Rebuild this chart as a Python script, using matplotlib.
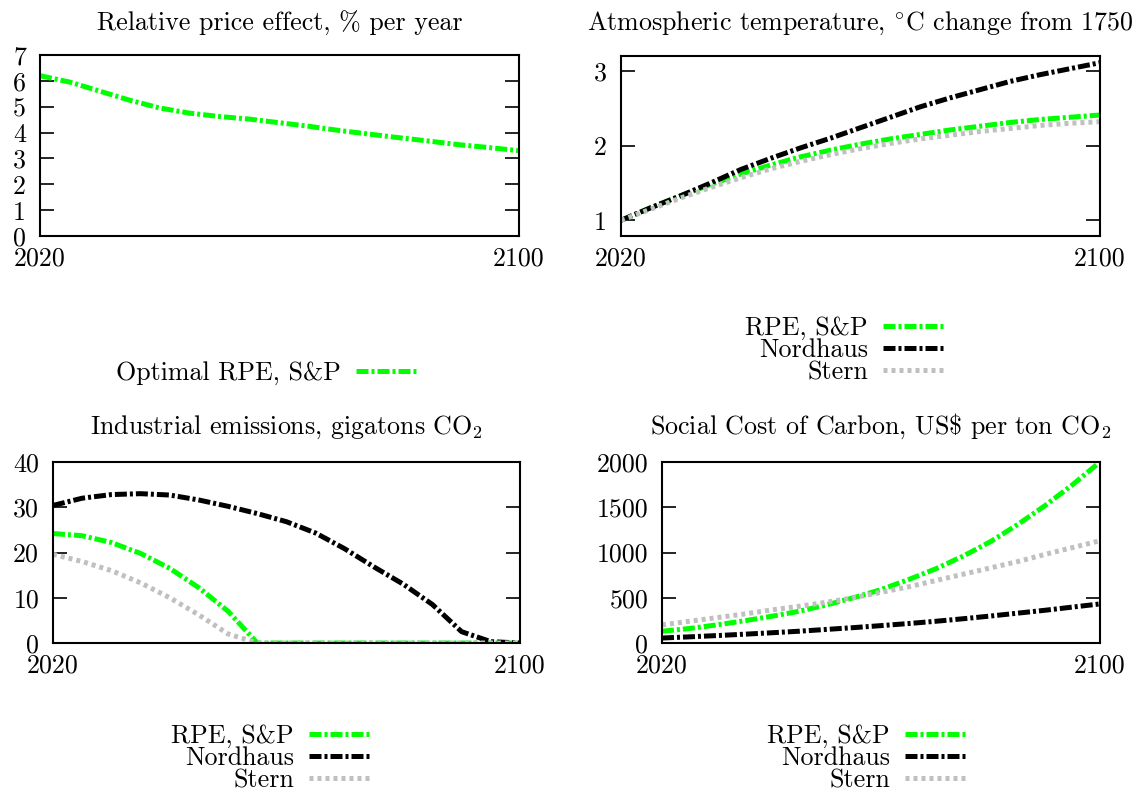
import matplotlib
matplotlib.use('Agg')
import matplotlib.pyplot as plt

plt.rcParams['font.family'] = ['cmr10', 'DejaVu Serif']
plt.rcParams['mathtext.fontset'] = 'cm'
plt.rcParams['axes.formatter.use_mathtext'] = True
plt.rcParams['axes.unicode_minus'] = False

# ---------------- data ----------------
years = [2020, 2025, 2030, 2035, 2040, 2045, 2050, 2055, 2060,
         2065, 2070, 2075, 2080, 2085, 2090, 2095, 2100]

rpe_effect = [6.20, 5.95, 5.60, 5.25, 4.95, 4.75, 4.62, 4.52, 4.38,
              4.24, 4.08, 3.94, 3.80, 3.67, 3.53, 3.42, 3.30]

temp_rpe = [1.00, 1.17, 1.33, 1.48, 1.62, 1.74, 1.85, 1.94, 2.02,
            2.09, 2.15, 2.21, 2.26, 2.31, 2.35, 2.38, 2.41]
temp_nordhaus = [1.00, 1.17, 1.33, 1.50, 1.68, 1.83, 1.97, 2.10, 2.24,
                 2.38, 2.52, 2.64, 2.75, 2.86, 2.95, 3.03, 3.11]
temp_stern = [1.00, 1.15, 1.30, 1.44, 1.57, 1.69, 1.79, 1.88, 1.96,
              2.03, 2.09, 2.14, 2.19, 2.23, 2.27, 2.30, 2.32]

emis_rpe = [24.2, 23.7, 22.2, 19.8, 16.5, 12.2, 7.0, 0.0, 0.0,
            0.0, 0.0, 0.0, 0.0, 0.0, 0.0, 0.0, 0.0]
emis_nordhaus = [30.4, 32.0, 32.8, 33.0, 32.7, 31.6, 30.2, 28.6, 26.8,
                 24.3, 20.8, 16.8, 13.0, 8.5, 2.5, 0.3, 0.0]
emis_stern = [19.6, 18.0, 16.0, 13.3, 10.0, 6.2, 2.0, 0.0, 0.0,
              0.0, 0.0, 0.0, 0.0, 0.0, 0.0, 0.0, 0.0]

scc_rpe = [130, 160, 200, 245, 295, 350, 420, 500, 590,
           700, 820, 960, 1120, 1310, 1520, 1750, 2000]
scc_nordhaus = [55, 68, 82, 97, 113, 130, 150, 170, 192,
                215, 240, 268, 298, 330, 362, 397, 432]
scc_stern = [200, 240, 280, 320, 365, 405, 450, 500, 560,
             620, 690, 760, 830, 900, 980, 1055, 1130]

x_ticks = [2020, 2100]
titles = ['Relative price effect, % per year',
          'Atmospheric temperature, $^{\\circ}$C change from 1750',
          'Industrial emissions, gigatons CO$_2$',
          'Social Cost of Carbon, US\\$ per ton CO$_2$']
labels = ['RPE, S&P', 'Nordhaus', 'Stern']
label_optimal = 'Optimal RPE, S&P'

# ---------------- styles ----------------
W, H = 1135, 791
FS = 18.7
GREEN = '#00ff00'
BLACK = '#000000'
GRAY = '#c0c0c0'
LW = 3.6
DASHDOT = (0, (2.4, 0.6, 0.6, 0.6))
DOTTED = (0, (0.8, 0.8))

fig = plt.figure(figsize=(W / 100, H / 100), dpi=100)


def add_ax(l, r, t, b):
    return fig.add_axes([l / W, 1 - b / H, (r - l) / W, (b - t) / H])


def style(ax, ylim, yticks):
    ax.set_xlim(2020, 2100)
    ax.set_ylim(*ylim)
    ax.set_xticks(x_ticks)
    ax.set_xticklabels([str(v) for v in x_ticks])
    ax.set_yticks(yticks)
    ax.set_yticklabels([str(v) for v in yticks])
    ax.tick_params(axis='y', direction='in', length=10, width=1.2,
                   left=True, right=True, pad=10, labelsize=FS)
    ax.tick_params(axis='x', length=0, pad=7.5, labelsize=FS)
    for s in ax.spines.values():
        s.set_linewidth(1.5)


def title(ax_l, ax_r, baseline, text):
    fig.text((ax_l + ax_r) / 2 / W, 1 - baseline / H, text,
             ha='center', va='baseline', fontsize=FS)


def legend(ax, x_right, y_center):
    ax.legend(loc='center right',
              bbox_to_anchor=(x_right / W, 1 - y_center / H),
              bbox_transform=fig.transFigure, frameon=False,
              markerfirst=False, handlelength=2.42, handletextpad=0.58,
              labelspacing=-0.06, borderpad=0, borderaxespad=0,
              fontsize=FS)


def three(ax, a, b, c):
    ax.plot(years, a, color=GREEN, lw=LW, linestyle=DASHDOT, label=labels[0])
    ax.plot(years, b, color=BLACK, lw=LW, linestyle=DASHDOT, label=labels[1])
    ax.plot(years, c, color=GRAY, lw=LW, linestyle=DOTTED, label=labels[2])


# Top-left
ax1 = add_ax(40, 519, 55, 236)
ax1.plot(years, rpe_effect, color=GREEN, lw=LW, linestyle=DASHDOT,
         label=label_optimal)
style(ax1, (0, 7), [0, 1, 2, 3, 4, 5, 6, 7])
title(40, 519, 31, titles[0])
legend(ax1, 419, 373)

# Top-right
ax2 = add_ax(621, 1100, 56, 236)
three(ax2, temp_rpe, temp_nordhaus, temp_stern)
style(ax2, (0.79, 3.2), [1, 2, 3])
title(621, 1100, 30, titles[1])
legend(ax2, 946, 350)

# Bottom-left
ax3 = add_ax(53, 520, 462, 643)
three(ax3, emis_rpe, emis_nordhaus, emis_stern)
style(ax3, (0, 40), [0, 10, 20, 30, 40])
title(53, 520, 434, titles[2])
legend(ax3, 372, 758)

# Bottom-right
ax4 = add_ax(662, 1100, 462, 643)
three(ax4, scc_rpe, scc_nordhaus, scc_stern)
style(ax4, (0, 2000), [0, 500, 1000, 1500, 2000])
title(662, 1100, 434, titles[3])
legend(ax4, 968, 758)

fig.savefig('out.png', dpi=100)
